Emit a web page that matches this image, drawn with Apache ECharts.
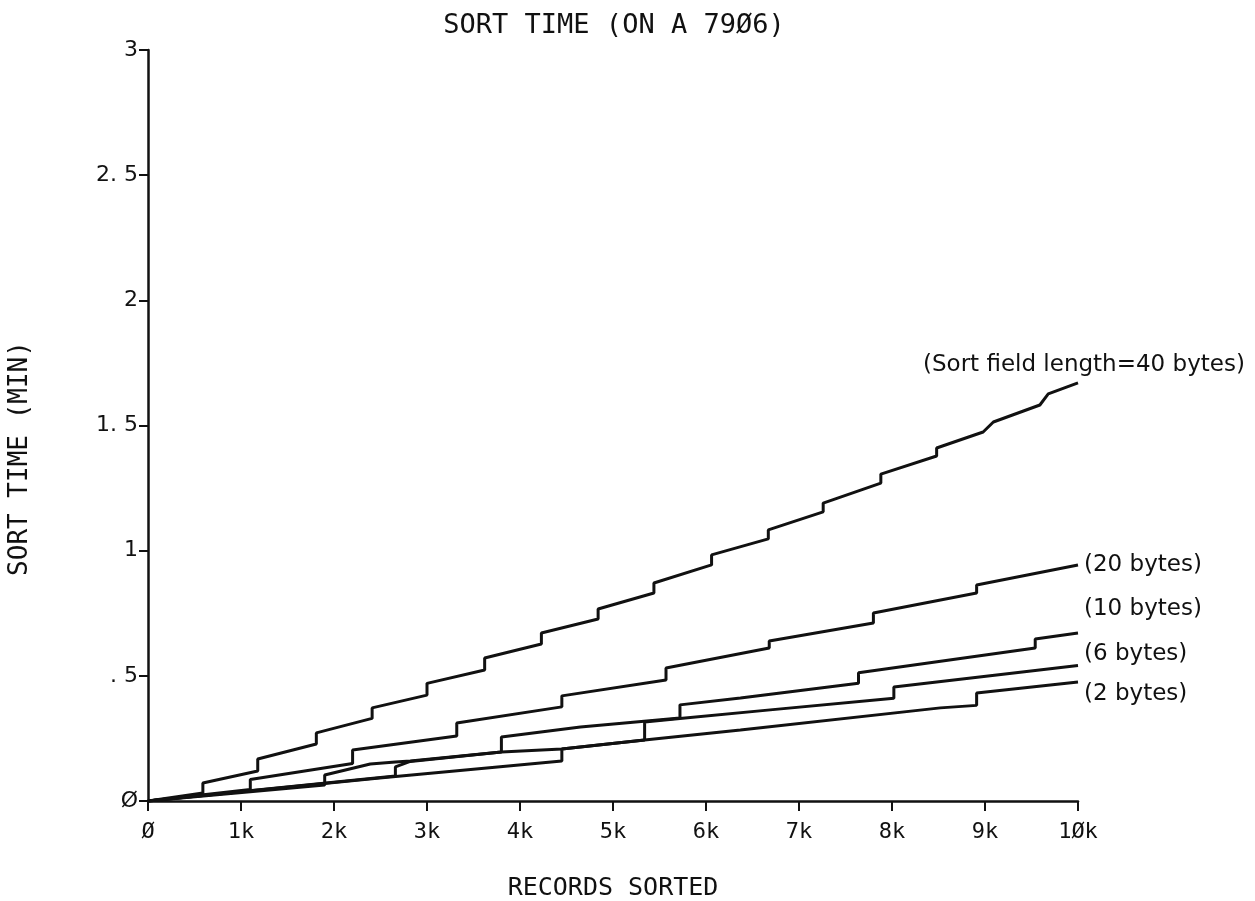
<!DOCTYPE html>
<html>
<head>
<meta charset="utf-8">
<title>Sort time</title>
<script src="https://cdn.jsdelivr.net/npm/echarts@6/dist/echarts.min.js"></script>
<style>
  html, body { margin: 0; padding: 0; background: #fff; }
  #chart { width: 1255px; height: 901px; }
</style>
</head>
<body>
<div id="chart"></div>
<script>
// records sorted vs. minutes (vertical jumps = same x twice)
var bytes40 = [[0,0],[590,0.032],[590,0.072],[1180,0.12],[1180,0.168],[1810,0.228],[1810,0.272],
    [2410,0.33],[2410,0.372],[3000,0.423],[3000,0.47],[3620,0.523],[3620,0.571],[4230,0.627],[4230,0.671],
    [4840,0.727],[4840,0.767],[5440,0.831],[5440,0.871],[6060,0.943],[6060,0.983],[6670,1.047],[6670,1.083],
    [7260,1.155],[7260,1.19],[7880,1.27],[7880,1.306],[8480,1.378],[8480,1.41],[8980,1.474],[9090,1.514],
    [9590,1.582],[9680,1.626],[10000,1.67]];
var bytes20 = [[0,0],[1100,0.046],[1100,0.086],[2200,0.15],[2200,0.204],[3320,0.26],[3320,0.312],
    [4450,0.376],[4450,0.42],[5570,0.483],[5570,0.531],[6680,0.611],[6680,0.639],[7800,0.711],[7800,0.751],
    [8910,0.831],[8910,0.863],[10000,0.943]];
var bytes10 = [[0,0],[1900,0.064],[1900,0.104],[2390,0.148],[2660,0.156],[2820,0.16],[3800,0.196],
    [3800,0.256],[4650,0.296],[5720,0.332],[5720,0.384],[6370,0.411],[7640,0.47],[7640,0.512],
    [9540,0.611],[9540,0.647],[10000,0.671]];
var bytes6 = [[0,0],[2660,0.1],[2660,0.136],[2820,0.158],[3800,0.196],[4450,0.208],[5340,0.244],
    [5340,0.316],[5720,0.33],[6690,0.364],[8020,0.41],[8020,0.455],[10000,0.541]];
var bytes2 = [[0,0],[2490,0.092],[4450,0.16],[4450,0.208],[5340,0.244],[6370,0.284],[8520,0.372],
    [8910,0.382],[8910,0.431],[10000,0.475]];

var seriesNames = ['(Sort field length=40 bytes)', '(20 bytes)', '(10 bytes)', '(6 bytes)', '(2 bytes)'];
var seriesData = [bytes40, bytes20, bytes10, bytes6, bytes2];
var labelOffsets = [[-161, -18], [0, 0], [0, -24], [0, -12], [0, 12]];

var xTicks = ['Ø', '1k', '2k', '3k', '4k', '5k', '6k', '7k', '8k', '9k', '1Øk'];
var yTicks = ['Ø', '. 5', '1', '1. 5', '2', '2. 5', '3'];

var plotFont = 'DejaVu Sans Mono';
var ink = '#111';

var myChart = echarts.init(document.getElementById('chart'));

var series = [];
for (var i = 0; i < seriesData.length; i++) {
    series.push({
        name: seriesNames[i],
        type: 'line',
        data: seriesData[i],
        showSymbol: false,
        symbol: 'none',
        animation: false,
        lineStyle: { color: ink, width: 3 },
        endLabel: {
            show: true,
            formatter: '{a}',
            distance: 6,
            offset: labelOffsets[i],
            color: ink,
            fontFamily: 'DejaVu Sans',
            fontSize: 23
        }
    });
}

option = {
    backgroundColor: '#fff',
    animation: false,
    title: {
        text: 'SORT TIME (ON A 79Ø6)',
        left: 609,
        top: 7,
        textAlign: 'center',
        textStyle: { fontFamily: plotFont, fontSize: 27, fontWeight: 'normal', color: ink }
    },
    grid: { left: 148, right: 177, top: 50, bottom: 100, outerBoundsMode: 'none' },
    xAxis: {
        type: 'value',
        min: 0,
        max: 10000,
        interval: 1000,
        name: 'RECORDS SORTED',
        nameLocation: 'middle',
        nameGap: 75,
        nameTextStyle: { fontFamily: plotFont, fontSize: 25, color: ink },
        splitLine: { show: false },
        axisLine: { lineStyle: { color: ink, width: 2.5 } },
        axisTick: { length: 10, lineStyle: { color: ink, width: 2 } },
        axisLabel: {
            margin: 20,
            color: ink,
            fontFamily: plotFont,
            fontSize: 22,
            formatter: function (v) { return xTicks[Math.round(v / 1000)]; }
        }
    },
    yAxis: {
        type: 'value',
        min: 0,
        max: 3,
        interval: 0.5,
        name: 'SORT TIME (MIN)',
        nameLocation: 'middle',
        nameGap: 115,
        nameTextStyle: { fontFamily: plotFont, fontSize: 26, color: ink, padding: [0, 66, 0, 0] },
        splitLine: { show: false },
        axisLine: { show: true, lineStyle: { color: ink, width: 2.5 } },
        axisTick: { show: true, length: 9, lineStyle: { color: ink, width: 2 } },
        axisLabel: {
            margin: 10,
            color: ink,
            fontFamily: 'DejaVu Sans',
            fontSize: 22,
            formatter: function (v) { return yTicks[Math.round(v * 2)]; }
        }
    },
    series: series
};
myChart.setOption(option);
</script>
</body>
</html>
